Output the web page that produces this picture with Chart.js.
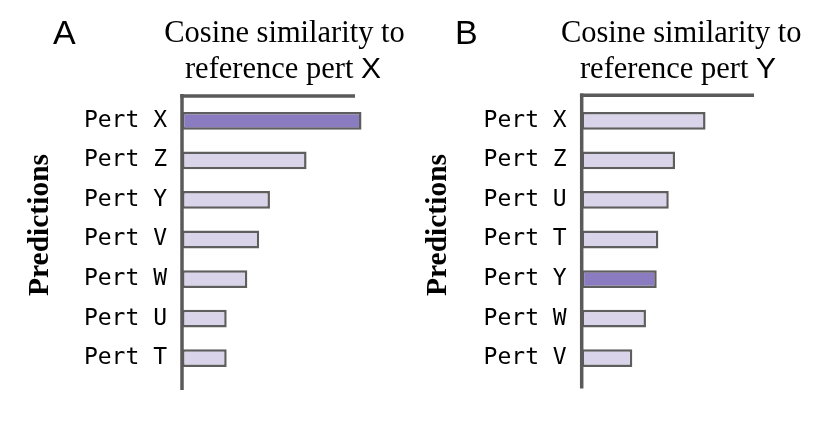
<!DOCTYPE html>
<html><head><meta charset="utf-8">
<script src="https://cdn.jsdelivr.net/npm/chart.js@4"></script>
<style>
html,body{margin:0;padding:0;background:#fff;width:830px;height:429px;overflow:hidden;}
.p{position:absolute;top:0;height:429px;}
</style></head><body>
<div class="p" style="left:0;width:415px"><canvas id="a" width="415" height="429"></canvas></div>
<div class="p" style="left:415px;width:415px"><canvas id="b" width="415" height="429"></canvas></div>
<script>
// ---- data ----
const categoriesA = ['Pert X','Pert Z','Pert Y','Pert V','Pert W','Pert U','Pert T'];
const valuesA     = [1.0, 0.694, 0.49, 0.43, 0.364, 0.249, 0.249];
const referenceA  = 'Pert X';
const categoriesB = ['Pert X','Pert Z','Pert U','Pert T','Pert Y','Pert W','Pert V'];
const valuesB     = [0.69, 0.52, 0.485, 0.427, 0.418, 0.358, 0.282];
const referenceB  = 'Pert Y';
const titleLine1  = 'Cosine similarity to';
const titleLine2  = 'reference pert ';
const yTitle      = 'Predictions';

const DARK = '#8b7bc0', LIGHT = '#dad4ea', EDGE = '#5e5e5e', AXIS = '#5a5a5a';
const SERIF = '"Liberation Serif", "Times New Roman", serif';
const SANS = '"Liberation Sans", Arial, sans-serif';
const MONO = '"DejaVu Sans Mono", monospace';

function decoPlugin(o){
  return {
    id:'deco',
    afterDatasetsDraw(chart){
      const {ctx, chartArea:ca, scales:{x}} = chart;
      ctx.save();
      ctx.strokeStyle = AXIS; ctx.lineWidth = 3.5; ctx.lineCap = 'butt';
      ctx.beginPath(); ctx.moveTo(ca.left, o.axisTop); ctx.lineTo(ca.left, o.axisBottom); ctx.stroke();
      ctx.beginPath(); ctx.moveTo(ca.left - 1.75, o.topY); ctx.lineTo(x.getPixelForValue(o.topExtent), o.topY); ctx.stroke();
      ctx.fillStyle = '#000';
      // panel letter
      ctx.font = '34px ' + SANS; ctx.textAlign = 'left'; ctx.textBaseline = 'alphabetic';
      ctx.fillText(o.letter, o.letterX, 44);
      // title line 1
      ctx.font = '30.5px ' + SERIF; ctx.textAlign = 'center';
      ctx.fillText(titleLine1, o.titleCx, 42);
      // title line 2 (serif + sans letter)
      ctx.textAlign = 'left';
      ctx.font = '30.5px ' + SERIF; const w1 = ctx.measureText(titleLine2).width;
      ctx.font = '30px ' + SANS; const w2 = ctx.measureText(o.ref).width;
      const sx = o.title2Cx - (w1 + w2) / 2;
      ctx.font = '30.5px ' + SERIF; ctx.fillText(titleLine2, sx, 78);
      ctx.font = '30px ' + SANS; ctx.fillText(o.ref, sx + w1, 78);
      // y title
      ctx.translate(o.predX, 225); ctx.rotate(-Math.PI / 2);
      ctx.font = 'bold 29.5px ' + SERIF; ctx.textAlign = 'center';
      ctx.fillText(yTitle, 0, 0);
      ctx.restore();
    }
  };
}

function makeChart(id, cats, vals, ref, axisW, padRight, deco){
  return new Chart(document.getElementById(id), {
    type:'bar',
    data:{
      labels: cats,
      datasets:[{
        data: vals,
        backgroundColor: cats.map(c => c === ref ? DARK : LIGHT),
        borderColor: EDGE, borderWidth: 2.5, borderSkipped: false,
        barPercentage: 0.45, categoryPercentage: 1.0, clip: false
      }]
    },
    options:{
      indexAxis:'y', responsive:false, animation:false, devicePixelRatio:1,
      layout:{ padding:{ top:101, bottom:51, left:0, right:padRight } },
      plugins:{ legend:{display:false}, tooltip:{enabled:false}, title:{display:false} },
      scales:{
        x:{ type:'linear', min:0, max:1, display:false },
        y:{ type:'category', offset:true,
            grid:{display:false, drawTicks:false}, border:{display:false},
            ticks:{ color:'#000', padding:15, font:{ family: MONO, size:23 } },
            afterFit(s){ s.width = axisW; } }
      }
    },
    plugins:[decoPlugin(deco)]
  });
}

makeChart('a', categoriesA, valuesA, referenceA, 182, 415 - 182 - 179.5,
  { letter:'A', letterX:53, titleCx:284.5, title2Cx:283, ref:'X', predX:48,
    axisTop:94, axisBottom:390, topY:96, topExtent:0.964 });
makeChart('b', categoriesB, valuesB, referenceB, 166.7, 415 - 166.7 - 179.5,
  { letter:'B', letterX:40, titleCx:266.2, title2Cx:263, ref:'Y', predX:31,
    axisTop:93.5, axisBottom:388.5, topY:95.2, topExtent:0.96 });
</script>
</body></html>
